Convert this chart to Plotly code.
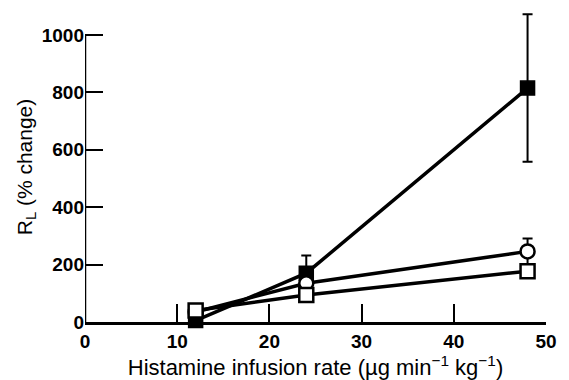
import plotly.graph_objects as go

# Histamine infusion rate (µg min^-1 kg^-1)
dose = [12, 24, 48]

# RL, % change from baseline
filled_sq = [5, 170, 815]
filled_sq_err = [0, 62, 257]
open_circle = [35, 135, 246]
open_circle_err = [0, 0, 45]
open_sq = [40, 94, 177]

x_ticks = [0, 10, 20, 30, 40, 50]
y_ticks = [0, 200, 400, 600, 800, 1000]

font_family = "Liberation Sans"

fig = go.Figure()

fig.add_trace(go.Scatter(
    x=dose, y=filled_sq, mode="lines+markers",
    line=dict(color="black", width=3.5),
    marker=dict(symbol="square", size=14, color="black",
                line=dict(color="black", width=1.5)),
    error_y=dict(type="data", array=filled_sq_err, visible=True,
                 color="black", thickness=2, width=5),
    cliponaxis=False, showlegend=False,
))

fig.add_trace(go.Scatter(
    x=dose, y=open_circle, mode="lines+markers",
    line=dict(color="black", width=3.5),
    marker=dict(symbol="circle", size=14, color="white",
                line=dict(color="black", width=2.5)),
    error_y=dict(type="data", array=open_circle_err, visible=True,
                 color="black", thickness=2, width=5),
    cliponaxis=False, showlegend=False,
))

fig.add_trace(go.Scatter(
    x=dose, y=open_sq, mode="lines+markers",
    line=dict(color="black", width=3.5),
    marker=dict(symbol="square", size=14, color="white",
                line=dict(color="black", width=2.5)),
    cliponaxis=False, showlegend=False,
))

# vertical axis line stops at the last tick (1000)
fig.add_shape(type="line", xref="x", yref="y", x0=0, x1=0, y0=0, y1=1000,
              line=dict(color="black", width=2.5))

fig.update_layout(
    width=569, height=380,
    margin=dict(l=85, r=15, t=12, b=57),
    paper_bgcolor="white", plot_bgcolor="white",
    font=dict(family=font_family, color="black", size=17),
    xaxis=dict(
        range=[0, 50], tickvals=x_ticks, ticktext=[str(v) for v in x_ticks],
        showgrid=False, zeroline=False,
        showline=True, linecolor="black", linewidth=2.5,
        ticks="inside", ticklen=18, tickwidth=2.2, tickcolor="black",
        tickfont=dict(size=19, family=font_family, weight="bold"),
        title=dict(text="Histamine infusion rate (µg min<sup>−1</sup> kg<sup>−1</sup>)",
                   font=dict(size=22, family=font_family), standoff=1),
    ),
    yaxis=dict(
        range=[0, 1080], tickvals=y_ticks, ticktext=[str(v) for v in y_ticks],
        showgrid=False, zeroline=False, showline=False,
        ticks="inside", ticklen=18, tickwidth=2.2, tickcolor="black",
        tickfont=dict(size=19, family=font_family, weight="bold"),
        title=dict(text="R<sub>L</sub> (% change)",
                   font=dict(size=21, family=font_family), standoff=3),
    ),
)

fig.write_html("out.html")
